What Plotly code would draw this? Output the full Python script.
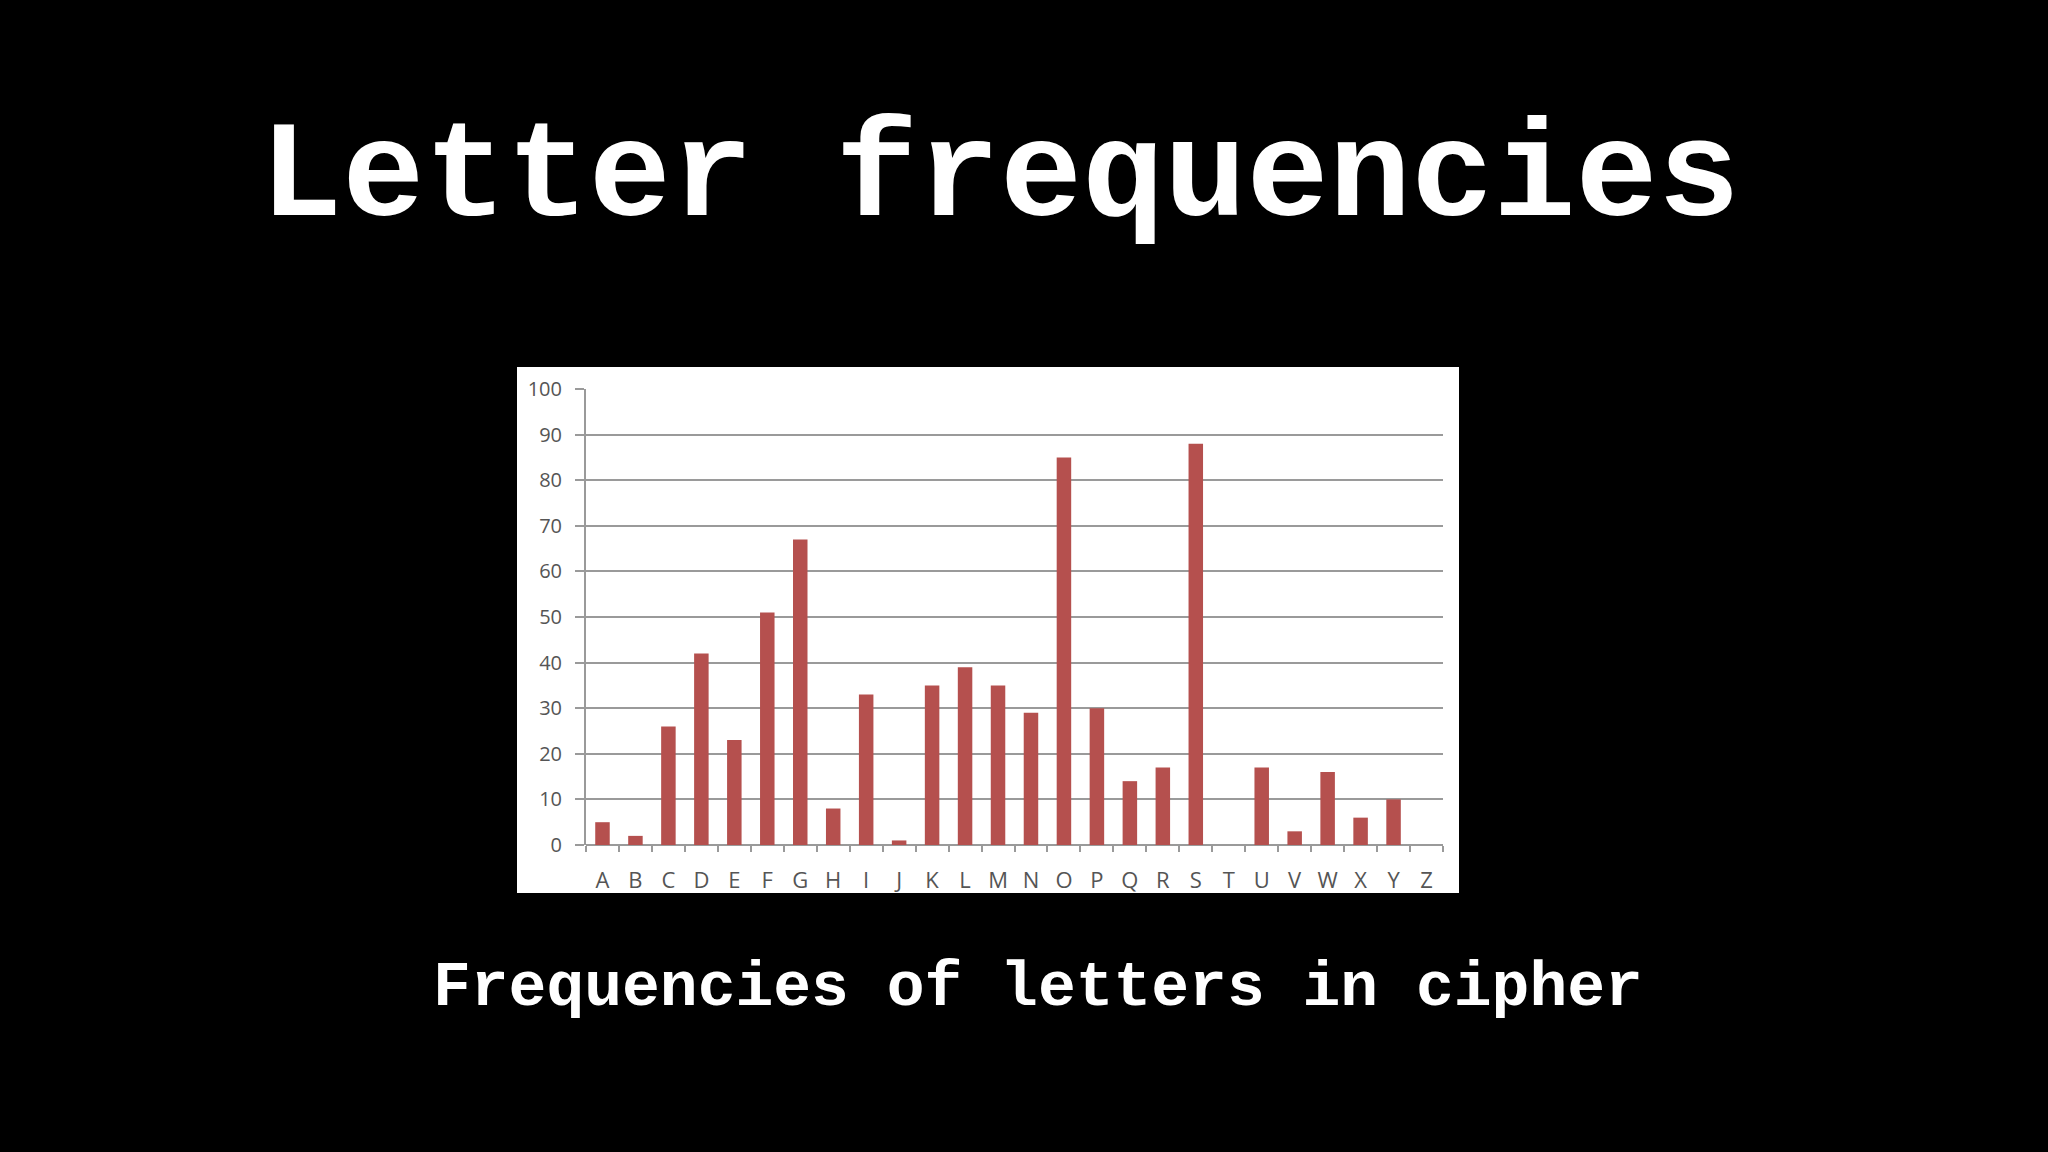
import plotly.graph_objects as go

letters = list("ABCDEFGHIJKLMNOPQRSTUVWXYZ")
counts = [5, 2, 26, 42, 23, 51, 67, 8, 33, 1, 35, 39, 35, 29, 85, 30, 14, 17, 88, 0, 17, 3, 16, 6, 10, 0]
y_ticks = [0, 10, 20, 30, 40, 50, 60, 70, 80, 90, 100]

W, H = 2048, 1152

def px_x(v):
    return v / W

def px_y(v):
    return 1 - v / H

fig = go.Figure()
fig.add_trace(go.Bar(
    x=letters, y=counts,
    marker=dict(color="#B5504E", line=dict(width=0)),
    hoverinfo="x+y",
))

fig.update_layout(
    width=W, height=H, autosize=False,
    margin=dict(l=0, r=0, t=0, b=0, pad=0, autoexpand=False),
    paper_bgcolor="black",
    plot_bgcolor="white",
    showlegend=False,
    bargap=0.56,
    xaxis=dict(
        domain=[px_x(586), px_x(1443)],
        range=[-0.5, 25.5],
        automargin=False,
        tickmode="array", tickvals=letters, ticktext=letters,
        tickson="boundaries",
        ticks="outside", ticklen=6, tickcolor="#9a9a9a", tickwidth=2,
        showline=False, showgrid=False,
        tickfont=dict(family="Open Sans", size=22, color="#555555"),
        ticklabelstandoff=20,
        fixedrange=True,
    ),
    yaxis=dict(
        domain=[px_y(845), px_y(389)],
        range=[0, 100],
        automargin=False,
        tickmode="array", tickvals=y_ticks,
        ticks="outside", ticklen=9, tickcolor="#9a9a9a", tickwidth=2,
        showgrid=True, gridcolor="#9a9a9a", gridwidth=2,
        showline=True, linecolor="#9a9a9a", linewidth=2,
        zeroline=True, zerolinecolor="#9a9a9a", zerolinewidth=2,
        tickfont=dict(family="Open Sans", size=20, color="#555555"),
        ticklabelstandoff=9,
        fixedrange=True,
    ),
)

# white chart panel behind the plot
fig.add_shape(type="rect", xref="paper", yref="paper",
              x0=px_x(517), x1=px_x(1459), y0=px_y(893), y1=px_y(367),
              fillcolor="white", line=dict(width=0), layer="below")

mono = "Courier New, Liberation Mono, monospace"
fig.add_annotation(text="<b>Letter frequencies</b>", xref="paper", yref="paper",
                   x=px_x(1000), y=px_y(179), xanchor="center", yanchor="middle",
                   showarrow=False,
                   font=dict(family=mono, size=137, color="white"))
fig.add_annotation(text="<b>Frequencies of letters in cipher</b>", xref="paper", yref="paper",
                   x=px_x(1038), y=px_y(988), xanchor="center", yanchor="middle",
                   showarrow=False,
                   font=dict(family=mono, size=63, color="white"))

fig.write_html(
    "out.html",
    config={"displayModeBar": False},
    post_script="document.body.style.margin='0';document.body.style.background='black';",
)
